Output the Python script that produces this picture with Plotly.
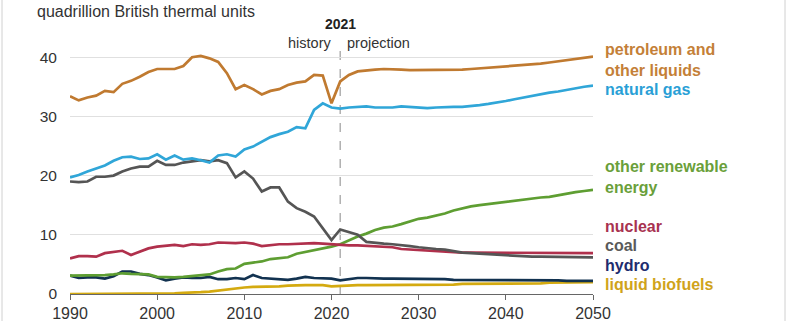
import plotly.graph_objects as go

years = list(range(1990, 2051))

petroleum = [33.4, 32.7, 33.2, 33.5, 34.3, 34.1, 35.5, 36.0, 36.7, 37.5,
             38.0, 38.0, 38.0, 38.5, 40.0, 40.2, 39.8, 39.2, 37.3, 34.6,
             35.3, 34.6, 33.7, 34.3, 34.6, 35.3, 35.7, 35.9, 37.0, 36.9,
             32.2, 35.9, 37.0, 37.6, 37.8, 37.9, 38.0, 38.0, 37.9, 37.8,
             37.8, 37.8, 37.8, 37.8, 37.9, 37.9, 38.0, 38.1, 38.2, 38.3,
             38.4, 38.5, 38.6, 38.8, 38.9, 39.1, 39.3, 39.5, 39.7, 39.9, 40.1]

natural_gas = [19.7, 20.1, 20.7, 21.2, 21.7, 22.5, 23.1, 23.2, 22.8, 22.9,
               23.6, 22.7, 23.4, 22.7, 22.9, 22.6, 22.2, 23.4, 23.6, 23.2,
               24.4, 24.9, 25.7, 26.5, 27.0, 27.4, 28.2, 28.0, 31.1, 32.2,
               31.5, 31.3, 31.5, 31.6, 31.7, 31.5, 31.5, 31.5, 31.7, 31.6,
               31.4, 31.4, 31.5, 31.6, 31.6, 31.6, 31.7, 31.9, 32.1, 32.3,
               32.6, 32.9, 33.2, 33.5, 33.8, 34.0, 34.2, 34.5, 34.7, 35.0, 35.2]

coal = [19.0, 18.9, 19.0, 19.8, 19.8, 20.0, 20.7, 21.2, 21.5, 21.5,
        22.5, 21.8, 21.8, 22.2, 22.4, 22.6, 22.4, 22.6, 22.1, 19.7,
        20.7, 19.5, 17.3, 18.0, 18.0, 15.6, 14.5, 13.9, 13.1, 11.1,
        9.1, 10.9, 10.5, 10.0, 8.8, 8.6, 8.5, 8.4, 8.3, 8.1,
        7.9, 7.7, 7.6, 7.5, 7.2, 7.0, 6.9, 6.8, 6.7, 6.6,
        6.5, 6.5, 6.4, 6.3, 6.3, 6.3, 6.2, 6.2, 6.2, 6.2, 6.2]

nuclear = [6.0, 6.4, 6.4, 6.3, 6.9, 7.1, 7.3, 6.6, 7.1, 7.7,
           8.0, 8.1, 8.3, 8.1, 8.4, 8.3, 8.4, 8.7, 8.6, 8.6,
           8.7, 8.5, 8.1, 8.3, 8.4, 8.4, 8.5, 8.5, 8.6, 8.5,
           8.4, 8.2, 8.2, 8.2, 8.1, 8.1, 8.0, 7.9, 7.6, 7.5,
           7.5, 7.4, 7.3, 7.1, 7.0, 7.0, 7.0, 7.0, 7.0, 7.0,
           7.0, 7.0, 7.0, 7.0, 7.0, 7.0, 6.9, 6.9, 6.9, 6.9, 6.9]

renewable = [3.1, 3.1, 3.1, 3.2, 3.2, 3.3, 3.5, 3.4, 3.3, 3.3,
             2.9, 2.8, 2.8, 2.9, 3.0, 3.2, 3.3, 3.8, 4.2, 4.3,
             5.1, 5.3, 5.5, 5.9, 6.0, 6.2, 6.8, 7.1, 7.3, 7.6,
             8.0, 8.4, 9.1, 9.7, 10.2, 10.8, 11.2, 11.4, 11.8, 12.2,
             12.7, 12.9, 13.2, 13.6, 14.1, 14.5, 14.8, 15.0, 15.2, 15.3,
             15.5, 15.7, 15.9, 16.1, 16.3, 16.4, 16.7, 16.9, 17.2, 17.4, 17.6]

hydro = [3.1, 2.7, 2.8, 2.8, 2.6, 3.0, 3.8, 3.8, 3.4, 3.2,
         2.8, 2.3, 2.6, 2.8, 2.7, 2.7, 2.9, 2.5, 2.5, 2.7,
         2.5, 3.2, 2.7, 2.6, 2.5, 2.4, 2.6, 2.9, 2.7, 2.6,
         2.6, 2.3, 2.5, 2.7, 2.7, 2.6, 2.6, 2.6, 2.6, 2.5,
         2.5, 2.5, 2.5, 2.5, 2.4, 2.4, 2.4, 2.4, 2.4, 2.4,
         2.4, 2.3, 2.3, 2.3, 2.3, 2.3, 2.3, 2.2, 2.2, 2.2, 2.2]

biofuels = [0.0, 0.0, 0.0, 0.0, 0.0, 0.0, 0.0, 0.0, 0.0, 0.0,
            0.0, 0.0, 0.1, 0.2, 0.2, 0.3, 0.4, 0.6, 0.8, 0.9,
            1.1, 1.2, 1.2, 1.3, 1.3, 1.4, 1.5, 1.5, 1.5, 1.5,
            1.3, 1.4, 1.5, 1.5, 1.5, 1.5, 1.5, 1.5, 1.5, 1.6,
            1.6, 1.6, 1.6, 1.6, 1.6, 1.7, 1.7, 1.7, 1.7, 1.7,
            1.8, 1.8, 1.8, 1.8, 1.8, 1.9, 1.9, 1.9, 1.9, 2.0, 2.0]

series = [
    ("liquid biofuels", biofuels, "#D4AA10"),
    ("hydro", hydro, "#123250"),
    ("other renewable energy", renewable, "#5E9E32"),
    ("nuclear", nuclear, "#B0304C"),
    ("coal", coal, "#555555"),
    ("natural gas", natural_gas, "#30A6D8"),
    ("petroleum and other liquids", petroleum, "#C07A30"),
]

labels = [
    ("petroleum and<br>other liquids", 60, "#C47F38"),
    ("natural gas", 89, "#2A9FD6"),
    ("other renewable<br>energy", 177, "#6A9F3A"),
    ("nuclear", 226, "#A83250"),
    ("coal", 245, "#5A5A5A"),
    ("hydro", 265, "#1E2C6E"),
    ("liquid biofuels", 284, "#D0A31A"),
]

tick_vals_x = [1990, 2000, 2010, 2020, 2030, 2040, 2050]
tick_vals_y = [0, 10, 20, 30, 40]

fig = go.Figure()
for name, vals, col in series:
    fig.add_trace(go.Scatter(x=years, y=vals, mode="lines", name=name,
                             line=dict(color=col, width=2.7), showlegend=False))

W, H = 787, 321
L, R, T, B = 70, 194, 39, 27
PW, PH = W - L - R, H - T - B

def px2paper_y(py):
    return (H - B - py) / PH

def px2paper_x(px):
    return (px - L) / PW

font = "Liberation Sans, Arial, sans-serif"

for text, py, col in labels:
    fig.add_annotation(x=px2paper_x(603), y=px2paper_y(py), xref="paper", yref="paper",
                       text="<b>" + text + "</b>", showarrow=False, xanchor="left",
                       yanchor="middle", align="left",
                       font=dict(family=font, size=16, color=col))

fig.add_annotation(x=px2paper_x(35), y=px2paper_y(12), xref="paper", yref="paper",
                   text="quadrillion British thermal units", showarrow=False,
                   xanchor="left", yanchor="middle",
                   font=dict(family=font, size=16, color="#333333"))
fig.add_annotation(x=2021, y=px2paper_y(24), xref="x", yref="paper",
                   text="<b>2021</b>", showarrow=False, xanchor="center", yanchor="middle",
                   font=dict(family=font, size=14, color="#222222"))
fig.add_annotation(x=px2paper_x(333), y=px2paper_y(43), xref="paper", yref="paper",
                   text="history", showarrow=False, xanchor="right", yanchor="middle",
                   font=dict(family=font, size=14.5, color="#333333"))
fig.add_annotation(x=px2paper_x(345), y=px2paper_y(43), xref="paper", yref="paper",
                   text="projection", showarrow=False, xanchor="left", yanchor="middle",
                   font=dict(family=font, size=14.5, color="#333333"))

fig.add_shape(type="line", x0=2021, x1=2021, y0=0, y1=41.7, xref="x", yref="y",
              line=dict(color="#B0B0B0", width=1.5, dash="dash"), layer="below")
for bx in (2, 785):
    fig.add_shape(type="line", x0=px2paper_x(bx), x1=px2paper_x(bx),
                  y0=px2paper_y(0), y1=px2paper_y(H), xref="paper", yref="paper",
                  line=dict(color="#D0D0D0", width=1))

fig.update_layout(
    width=W, height=H,
    margin=dict(l=L, r=R, t=T, b=B),
    plot_bgcolor="white", paper_bgcolor="white",
    font=dict(family=font, size=15, color="#333333"),
    xaxis=dict(range=[1990, 2050], tickvals=tick_vals_x, showgrid=False,
               showline=True, linecolor="#666666", linewidth=1,
               ticks="outside", ticklen=5, tickcolor="#666666",
               tickfont=dict(size=16, color="#333333"), zeroline=False,
               automargin=False),
    yaxis=dict(range=[0, 43.07], tickvals=tick_vals_y, showgrid=True,
               gridcolor="#E0E0E0", gridwidth=1, zeroline=False,
               showline=False, ticks="", ticklabelstandoff=12,
               tickfont=dict(size=15.5, color="#333333"), automargin=False),
)

fig.write_html("out.html")
